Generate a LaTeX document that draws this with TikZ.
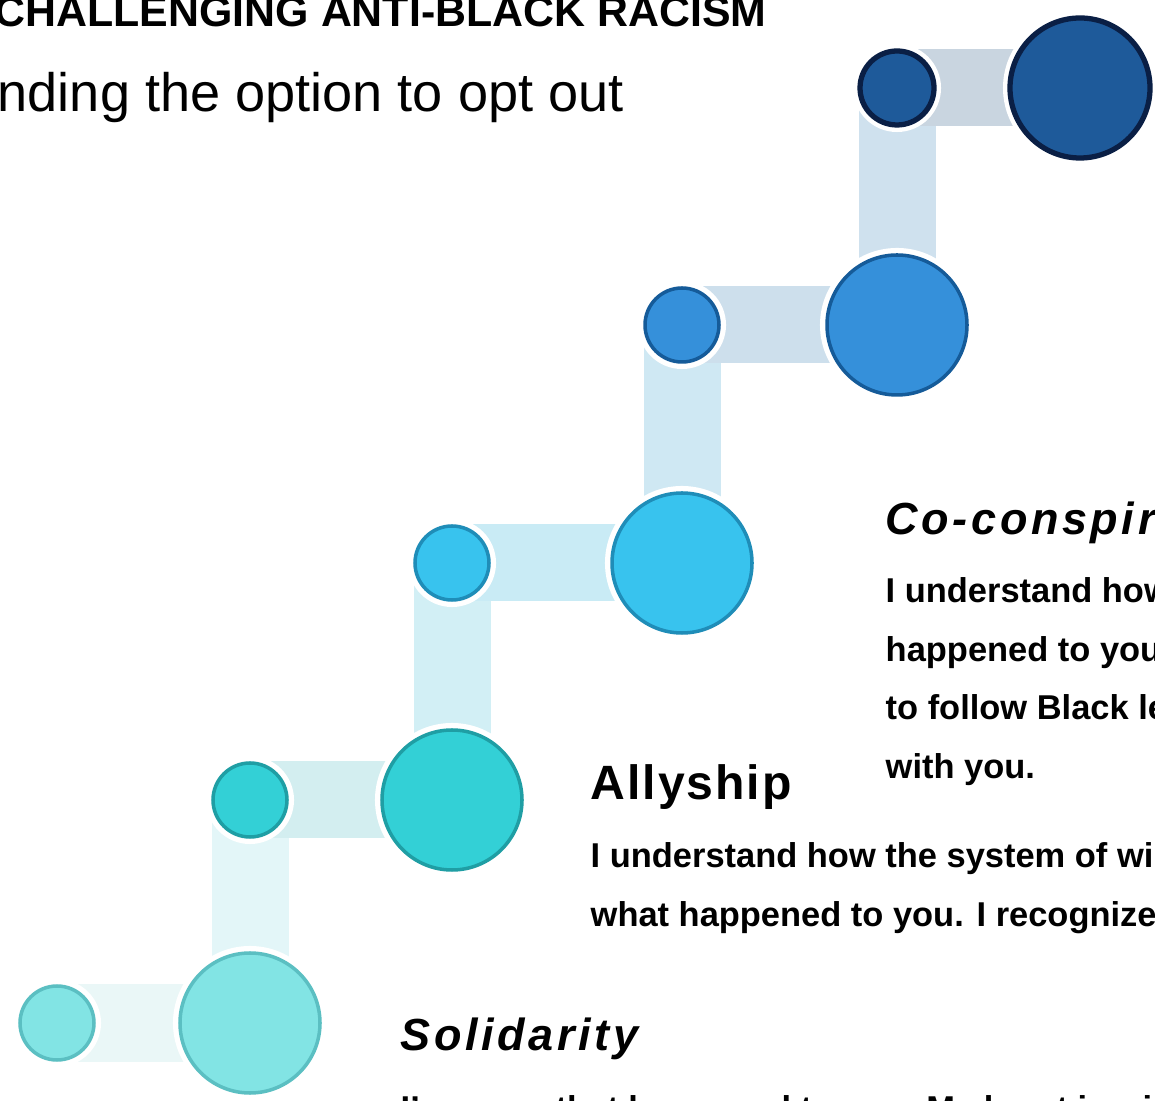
\documentclass[tikz,border=0pt]{standalone}
\usepackage{fontspec}
\setmainfont{Liberation Sans}
\usetikzlibrary{backgrounds}

\definecolor{fillA}{HTML}{82E4E4}
\definecolor{edgeA}{HTML}{5BBFC2}
\definecolor{fillB}{HTML}{33D0D6}
\definecolor{edgeB}{HTML}{1F9EA4}
\definecolor{fillC}{HTML}{38C3EE}
\definecolor{edgeC}{HTML}{1F8DB8}
\definecolor{fillD}{HTML}{3590DA}
\definecolor{edgeD}{HTML}{155B99}
\definecolor{fillE}{HTML}{1E5A9A}
\definecolor{edgeE}{HTML}{0A1F45}
\definecolor{linkA}{HTML}{EAF7F7}
\definecolor{linkAB}{HTML}{E3F6F8}
\definecolor{linkB}{HTML}{D3EEF0}
\definecolor{linkBC}{HTML}{D2EFF5}
\definecolor{linkC}{HTML}{C9EBF5}
\definecolor{linkCD}{HTML}{CFE8F3}
\definecolor{linkD}{HTML}{CDDFEC}
\definecolor{linkDE}{HTML}{CFE1EE}
\definecolor{linkE}{HTML}{C9D5E0}

\tikzset{
  dot/.style={circle,inner sep=0pt,line width=1pt,preaction={draw=white,line width=4pt}},
  smalldot/.style={dot,minimum size=0.74cm},
  bigdot/.style={dot,minimum size=1.40cm},
  link/.style={line width=0.77cm},
  txt/.style={anchor=base west,inner sep=0pt},
  headline/.style={txt,font=\fontsize{12.2pt}{14pt}\selectfont\bfseries},
  subline/.style={txt,font=\fontsize{15.4pt}{18pt}\selectfont},
  stagehead/.style={txt,font=\fontsize{12.8pt}{15pt}\selectfont\bfseries\itshape\addfontfeatures{LetterSpace=8}},
  allyhead/.style={txt,font=\fontsize{13.7pt}{16pt}\selectfont\bfseries\addfontfeatures{LetterSpace=4}},
  bodyline/.style={txt,font=\fontsize{9.8pt}{12pt}\selectfont\bfseries}
}

\begin{document}
\begin{tikzpicture}
\useasboundingbox (0,0) rectangle (11.55,11);
\clip (0,0) rectangle (11.55,11);

% steps, bottom to top
\node[smalldot,fill=fillA,draw=edgeA] (s1) at (0.57,0.77) {};
\node[bigdot,fill=fillA,draw=edgeA] (b1) at (2.50,0.77) {};
\node[smalldot,fill=fillB,draw=edgeB] (s2) at (2.50,3.00) {};
\node[bigdot,fill=fillB,draw=edgeB] (b2) at (4.52,3.00) {};
\node[smalldot,fill=fillC,draw=edgeC] (s3) at (4.52,5.37) {};
\node[bigdot,fill=fillC,draw=edgeC] (b3) at (6.82,5.37) {};
\node[smalldot,fill=fillD,draw=edgeD] (s4) at (6.82,7.75) {};
\node[bigdot,fill=fillD,draw=edgeD] (b4) at (8.97,7.75) {};
\node[smalldot,fill=fillE,draw=edgeE,line width=1.5pt] (s5) at (8.97,10.12) {};
\node[bigdot,fill=fillE,draw=edgeE,line width=1.5pt] (b5) at (10.80,10.12) {};

\begin{scope}[on background layer]
\draw[link,linkA] (s1.center) -- (b1.center);
\draw[link,linkAB] (b1.center) -- (s2.center);
\draw[link,linkB] (s2.center) -- (b2.center);
\draw[link,linkBC] (b2.center) -- (s3.center);
\draw[link,linkC] (s3.center) -- (b3.center);
\draw[link,linkCD] (b3.center) -- (s4.center);
\draw[link,linkD] (s4.center) -- (b4.center);
\draw[link,linkDE] (b4.center) -- (s5.center);
\draw[link,linkE] (s5.center) -- (b5.center);
\end{scope}

% titles
\node[headline] (title) at (-0.06,10.73) {CHALLENGING ANTI-BLACK RACISM};
\node[subline] (subtitle) at (-0.03,9.88) {nding the option to opt out};

% co-conspirator
\node[stagehead] (cohead) at (8.85,5.65) {Co-conspir};
\node[bodyline] (coA) at (8.85,4.97) {I understand how};
\node[bodyline] (coB) at (8.85,4.38) {happened to you};
\node[bodyline] (coC) at (8.85,3.80) {to follow Black le};
\node[bodyline] (coD) at (8.85,3.21) {with you.};

% allyship
\node[allyhead] (allyhead) at (5.90,3.00) {Allyship};
\node[bodyline] (allyA) at (5.90,2.32) {I understand how the system of wi};
\node[bodyline] (allyB) at (5.90,1.73) {what happened to you. I recognize};

% solidarity
\node[stagehead] (solhead) at (4.00,0.50) {Solidarity};
\node[bodyline] (solA) at (4.00,-0.20) {I'm sorry that happened to you. My heart is wi};
\end{tikzpicture}
\end{document}
